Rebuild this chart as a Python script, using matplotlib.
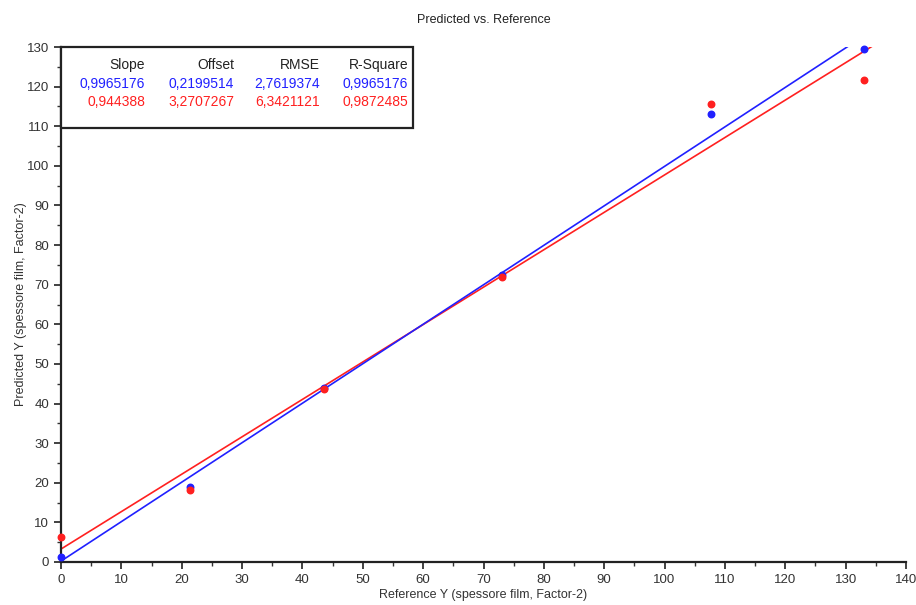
import numpy as np
import matplotlib.pyplot as plt
from matplotlib.patches import Rectangle

# reference vs predicted values
ref_x = [0.0, 21.3, 43.5, 73.0, 107.7, 133.0]
pred_blue = [1.3, 18.9, 43.8, 72.5, 113.0, 129.4]
pred_red = [6.3, 18.3, 43.6, 72.0, 115.5, 121.6]

# fitted lines: slope, offset
fit_blue = (0.9965176, 0.2199514)
fit_red = (0.944388, 3.2707267)

col_names = ["Slope", "Offset", "RMSE", "R-Square"]
row_blue = ["0,9965176", "0,2199514", "2,7619374", "0,9965176"]
row_red = ["0,944388", "3,2707267", "6,3421121", "0,9872485"]

blue = "#2020ff"
red = "#ff2020"

plt.rcParams['font.family'] = ['Liberation Sans', 'DejaVu Sans']

fig = plt.figure(figsize=(9.16, 6.05), dpi=100)
ax = fig.add_axes([61/916, 1 - 562/605, 845/916, 515/605])

xs = np.array([0, 140])
for (m, b), c in [(fit_red, red), (fit_blue, blue)]:
    ax.plot(xs, m * xs + b, color=c, lw=1.2, zorder=2)

ax.scatter(ref_x, pred_blue, s=22, color=blue, zorder=3, clip_on=False)
ax.scatter(ref_x, pred_red, s=22, color=red, zorder=4, clip_on=False)

ax.set_xlim(0, 140)
ax.set_ylim(0, 130)
ax.set_xticks(np.arange(0, 141, 10))
ax.set_yticks(np.arange(0, 131, 10))
ax.set_xticks(np.arange(5, 140, 10), minor=True)
ax.set_yticks(np.arange(5, 130, 10), minor=True)
ax.tick_params(which='major', direction='out', length=5, width=1.3, labelsize=9.5, colors='#333333')
ax.tick_params(which='minor', direction='out', length=3, width=1.0, colors='#333333')
for s in ['top', 'right']:
    ax.spines[s].set_visible(False)
for s in ['left', 'bottom']:
    ax.spines[s].set_linewidth(1.6)
    ax.spines[s].set_color('#222222')

ax.set_title("Predicted vs. Reference", fontsize=9, color='#222222', pad=17)
ax.set_xlabel("Reference Y (spessore film, Factor-2)", fontsize=9, color='#333333', labelpad=2)
ax.set_ylabel("Predicted Y (spessore film, Factor-2)", fontsize=9, color='#333333', labelpad=0)

# stats table box
ax.add_patch(Rectangle((0, 0.843), 0.4166, 0.157, transform=ax.transAxes,
                       fill=True, facecolor='white', edgecolor='#222222', lw=1.6,
                       zorder=5, clip_on=False))
col_right = [0.0994, 0.2047, 0.3065, 0.4107]
rows = [(col_names, '#222222', 0.965), (row_blue, blue, 0.928), (row_red, red, 0.893)]
for labels, c, y in rows:
    for xr, t in zip(col_right, labels):
        ax.text(xr, y, t, transform=ax.transAxes, ha='right', va='center',
                fontsize=10, color=c, zorder=6)

fig.savefig("out.png", dpi=100)
